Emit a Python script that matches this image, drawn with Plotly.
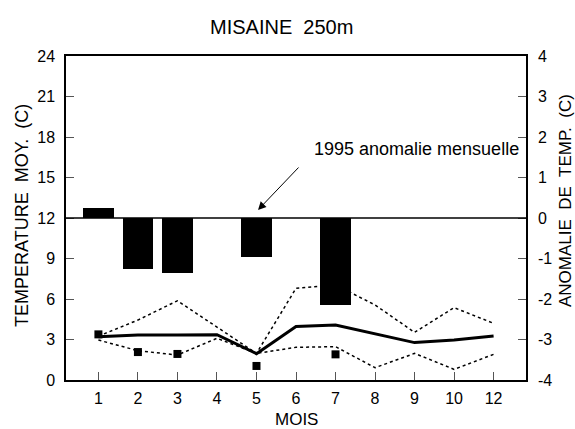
import plotly.graph_objects as go

# positions along the month axis (the last tick is labelled "12")
positions = [1, 2, 3, 4, 5, 6, 7, 8, 9, 10, 11]
tick_labels = ["1", "2", "3", "4", "5", "6", "7", "8", "9", "10", "12"]

mean_temp = [3.2, 3.33, 3.33, 3.36, 1.95, 3.97, 4.07, 3.43, 2.77, 2.96, 3.26]
upper_temp = [3.25, 4.44, 5.87, 3.95, 1.97, 6.79, 7.04, 5.56, 3.53, 5.36, 4.2]
lower_temp = [2.96, 2.17, 1.85, 3.09, 1.97, 2.42, 2.47, 0.91, 1.97, 0.79, 1.9]

obs_pos = [1, 2, 3, 5, 7]
obs_temp_1995 = [3.38, 2.07, 1.93, 1.04, 1.9]

anom_pos = [1, 2, 3, 5, 7]
anomaly_1995 = [0.25, -1.25, -1.35, -0.97, -2.16]

left_ticks = [0, 3, 6, 9, 12, 15, 18, 21, 24]
right_ticks = [-4, -3, -2, -1, 0, 1, 2, 3, 4]
right_tick_text = ["-4", "-3", "-2", "-1", "0", "1", "2", "3", "4"]

FONT = "Liberation Sans, Arial, sans-serif"

# plot area in pixels (for placing free titles)
PL, PR, PT, PB = 66, 526, 56, 380


def px_to_paper(px, py):
    return (px - PL) / (PR - PL), (PB - py) / (PB - PT)


fig = go.Figure()

fig.add_trace(go.Bar(x=anom_pos, y=anomaly_1995, yaxis="y2", width=0.78,
                     marker=dict(color="black", line=dict(width=0)),
                     showlegend=False))

fig.add_trace(go.Scatter(x=positions, y=upper_temp, mode="lines",
                         line=dict(color="black", width=1.5, dash="dot"),
                         showlegend=False))
fig.add_trace(go.Scatter(x=positions, y=lower_temp, mode="lines",
                         line=dict(color="black", width=1.5, dash="dot"),
                         showlegend=False))
fig.add_trace(go.Scatter(x=positions, y=mean_temp, mode="lines",
                         line=dict(color="black", width=3),
                         showlegend=False))
fig.add_trace(go.Scatter(x=obs_pos, y=obs_temp_1995, mode="markers",
                         marker=dict(symbol="square", size=8, color="black"),
                         showlegend=False))

# zero line of anomaly axis
fig.add_shape(type="line", xref="paper", x0=0, x1=1, yref="y2", y0=0, y1=0,
              line=dict(color="black", width=1.5))

# arrow
fig.add_annotation(x=5.04, y=12.6, ax=6.1, ay=15.85, xref="x", yref="y",
                   axref="x", ayref="y", text="", showarrow=True,
                   arrowhead=2, arrowsize=1.6, arrowwidth=1, arrowcolor="black")
fig.add_annotation(x=9.05, y=17.1, xref="x", yref="y", text="1995 anomalie mensuelle",
                   showarrow=False, font=dict(family=FONT, size=18, color="black"))

# axis titles and chart title
x, y = px_to_paper(22, 216)
fig.add_annotation(x=x, y=y, xref="paper", yref="paper",
                   text="TEMPERATURE  MOY.  (C)", textangle=-90, showarrow=False,
                   xanchor="center", yanchor="middle",
                   font=dict(family=FONT, size=18, color="black"))
x, y = px_to_paper(565, 201)
fig.add_annotation(x=x, y=y, xref="paper", yref="paper",
                   text="ANOMALIE  DE  TEMP.  (C)", textangle=-90, showarrow=False,
                   xanchor="center", yanchor="middle",
                   font=dict(family=FONT, size=17, color="black"))
x, y = px_to_paper(296, 419)
fig.add_annotation(x=x, y=y, xref="paper", yref="paper",
                   text="MOIS", showarrow=False, xanchor="center", yanchor="middle",
                   font=dict(family=FONT, size=17, color="black"))
x, y = px_to_paper(281, 27)
fig.add_annotation(x=x, y=y, xref="paper", yref="paper",
                   text="MISAINE  250m", showarrow=False, xanchor="center", yanchor="middle",
                   font=dict(family=FONT, size=20, color="black"))

fig.update_layout(
    width=575, height=429,
    margin=dict(l=PL, r=575 - PR, t=PT, b=429 - PB),
    paper_bgcolor="white", plot_bgcolor="white",
    font=dict(family=FONT, size=16, color="black"),
    bargap=0,
    xaxis=dict(range=[0.18, 11.82], tickvals=positions, ticktext=tick_labels,
               ticks="inside", ticklen=8, tickcolor="#555", tickwidth=1,
               showline=True, linecolor="black", linewidth=1.5, mirror=True,
               showgrid=False, zeroline=False, ticklabelstandoff=3,
               tickfont=dict(size=16)),
    yaxis=dict(range=[0, 24], tickvals=left_ticks, ticks="inside", ticklen=8,
               tickcolor="#555", tickwidth=1, showline=True, linecolor="black",
               linewidth=1.5, showgrid=False, zeroline=False,
               ticklabelstandoff=6, tickfont=dict(size=16)),
    yaxis2=dict(range=[-4, 4], tickvals=right_ticks, ticktext=right_tick_text,
                overlaying="y", side="right",
                ticks="inside", ticklen=8, tickcolor="#555", tickwidth=1,
                showline=True, linecolor="black", linewidth=1.5, showgrid=False,
                zeroline=False, ticklabelstandoff=7, tickfont=dict(size=16)),
)

fig.write_html("out.html")
